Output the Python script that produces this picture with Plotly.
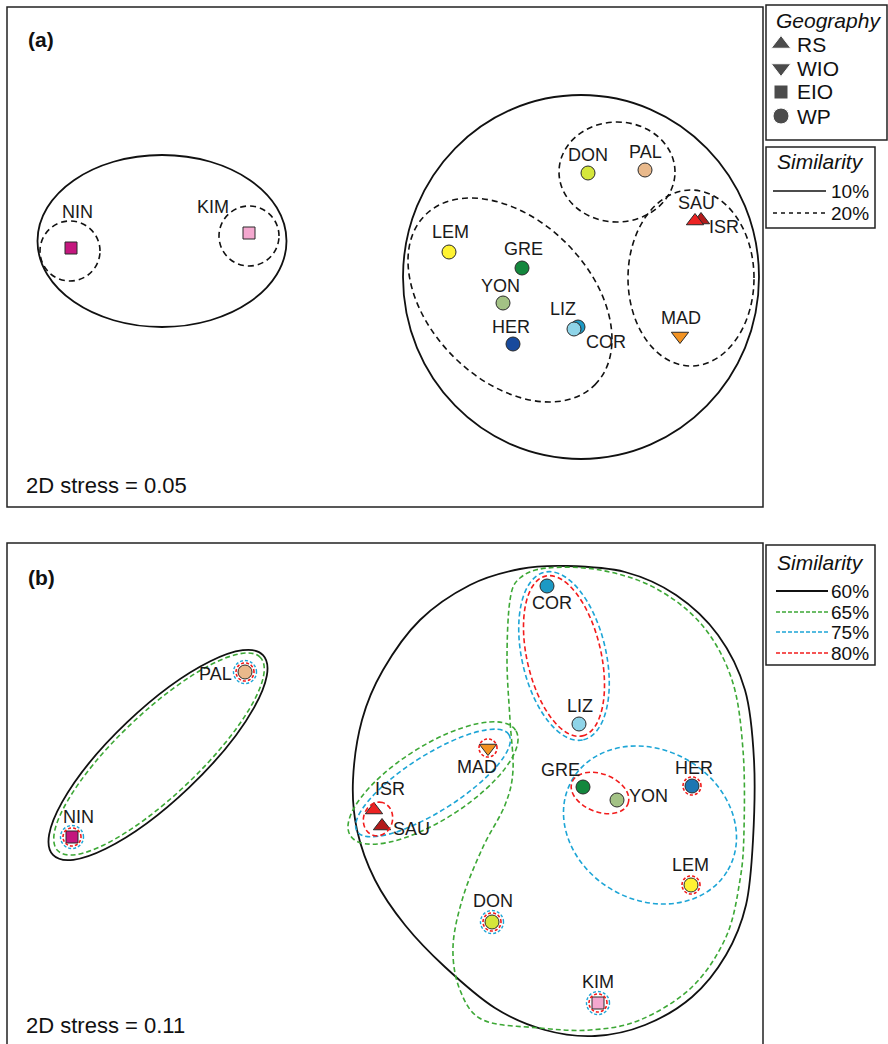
import math
import plotly.graph_objects as go

W, H = 888, 1044
FONT = "Liberation Sans, Arial, sans-serif"

# ---------------- NMDS coordinates ----------------
# Panel (a): 10% / 20% similarity
sites_a = ["NIN", "KIM", "DON", "PAL", "SAU", "ISR", "LEM", "GRE", "YON", "HER", "COR", "LIZ", "MAD"]
nmds1_a = [0.64, 2.42, 5.81, 6.38, 6.94, 6.88, 4.42, 5.15, 4.96, 5.06, 5.71, 5.67, 6.73]
nmds2_a = [2.59, 2.74, 3.34, 3.37, 2.87, 2.86, 2.55, 2.39, 2.04, 1.63, 1.80, 1.78, 1.71]

# Panel (b): 60-80% similarity
sites_b = ["NIN", "PAL", "COR", "LIZ", "MAD", "SAU", "ISR", "GRE", "YON", "HER", "LEM", "DON", "KIM"]
nmds1_b = [0.65, 2.38, 5.40, 5.72, 4.81, 3.75, 3.67, 5.76, 6.10, 6.85, 6.84, 4.85, 5.91]
nmds2_b = [2.07, 3.72, 4.58, 3.20, 2.96, 2.18, 2.34, 2.57, 2.44, 2.58, 1.59, 1.22, 0.41]

stress_a = 0.05
stress_b = 0.11

# Geography of each site
region = {"ISR": "RS", "SAU": "RS", "MAD": "WIO", "NIN": "EIO", "KIM": "EIO"}
regions = ["RS", "WIO", "EIO", "WP"]
region_symbol = {"RS": "triangle-up", "WIO": "triangle-down", "EIO": "square", "WP": "circle"}

site_color = {
    "NIN": "#C4177E", "KIM": "#F4A8CF", "PAL": "#E9B98B", "DON": "#D5E63B",
    "LEM": "#FFF333", "GRE": "#13873D", "YON": "#A3C285", "HER": "#1E76B3",
    "LIZ": "#8ED4E8", "COR": "#1C99C4", "MAD": "#F39322", "ISR": "#EC2323",
    "SAU": "#B31B1B",
}
site_color_a = dict(site_color, HER="#184A9C")

# label offsets in pixels (right, up)
label_off_a = {"NIN": (6, 36), "KIM": (-36, 26), "DON": (0, 18), "PAL": (0, 18),
               "SAU": (-5, 17), "ISR": (29, -6), "LEM": (1, 20), "GRE": (1, 19),
               "YON": (-3, 17), "HER": (-2, 17), "COR": (28, -15), "LIZ": (-11, 20),
               "MAD": (1, 18)}
label_off_b = {"NIN": (6, 20), "PAL": (-30, -2), "COR": (5, -17), "LIZ": (1, 18),
               "MAD": (-11, -19), "SAU": (29, -3), "ISR": (16, 21), "GRE": (-23, 17),
               "YON": (31, 4), "HER": (2, 18), "LEM": (-1, 20), "DON": (1, 21),
               "KIM": (0, 21)}

# ---------------- cluster outlines (NMDS units) ----------------
# panel (a)
hull_a_solid = [  # (cx, cy, rx, ry, angle)
    (1.55, 2.66, 1.245, 0.86, 0),
    (5.74, 2.30, 1.78, 1.82, 0),
]
hull_a_dashed = [
    (0.63, 2.56, 0.30, 0.30, 0),
    (2.42, 2.71, 0.30, 0.30, 0),
    (6.10, 3.35, 0.58, 0.50, 0),
    (6.84, 2.29, 0.63, 0.88, 0),
    (5.03, 2.07, 1.20, 0.80, -45),
]

# panel (b)
egg_60_x = [5.60, 6.18, 6.69, 7.11, 7.38, 7.47, 7.46, 7.39, 7.19, 6.85, 6.38, 5.88,
            5.38, 4.88, 4.38, 3.98, 3.68, 3.50, 3.46, 3.55, 3.76, 4.13, 4.63, 5.13]
egg_60_y = [4.78, 4.72, 4.49, 4.09, 3.54, 2.84, 2.04, 1.39, 0.89, 0.47, 0.19, 0.08,
            0.14, 0.36, 0.77, 1.19, 1.64, 2.14, 2.64, 3.24, 3.74, 4.24, 4.59, 4.75]
main_65_x = [5.03, 5.13, 5.40, 5.93, 6.48, 6.95, 7.25, 7.36, 7.37, 7.33, 7.19, 6.85,
             6.33, 5.83, 5.33, 4.76, 4.53, 4.46, 4.56, 4.76, 4.98, 5.06, 5.03, 5.00]
main_65_y = [4.44, 4.66, 4.76, 4.74, 4.56, 4.19, 3.64, 2.94, 2.14, 1.64, 1.07, 0.57,
             0.24, 0.14, 0.16, 0.24, 0.54, 0.97, 1.47, 1.97, 2.39, 2.74, 3.24, 3.84]

ell_b = {  # level -> list of (cx, cy, a, b, angle)
    "60": [(1.51, 2.89, 1.45, 0.45, 43.6)],
    "65": [(1.52, 2.90, 1.40, 0.41, 43.6), (4.26, 2.61, 0.98, 0.37, 32.5)],
    "75": [(5.57, 3.88, 0.86, 0.42, -77), (4.26, 2.61, 0.90, 0.28, 32.5),
           (6.43, 2.19, 0.90, 0.75, -30)],
    "80": [(5.57, 3.88, 0.82, 0.37, -77), (3.71, 2.25, 0.17, 0.145, 75),
           (5.93, 2.51, 0.30, 0.19, -21)],
}
ring_80 = ["PAL", "NIN", "DON", "KIM", "HER", "LEM", "MAD"]
ring_75 = ["PAL", "NIN", "DON", "KIM"]

level_style = {
    "60": dict(color="#111111", width=1.8, dash="solid"),
    "65": dict(color="#3DA836", width=1.6, dash="5px,3px"),
    "75": dict(color="#1DA5D6", width=1.6, dash="5px,3px"),
    "80": dict(color="#F21C1C", width=1.6, dash="5px,3px"),
}


def ellipse_path(cx, cy, a, b, ang):
    t = math.radians(ang)
    c, s = math.cos(t), math.sin(t)
    k = 0.5523

    def tr(u, v):
        return (cx + a * u * c - b * v * s, cy + a * u * s + b * v * c)

    quads = [((1, k), (k, 1), (0, 1)), ((-k, 1), (-1, k), (-1, 0)),
             ((-1, -k), (-k, -1), (0, -1)), ((k, -1), (1, -k), (1, 0))]
    x0, y0 = tr(1, 0)
    d = f"M{x0:.4f},{y0:.4f}"
    for c1, c2, p in quads:
        pts = [tr(*c1), tr(*c2), tr(*p)]
        d += " C" + " ".join(f"{x:.4f},{y:.4f}" for x, y in pts)
    return d + " Z"


def smooth_closed_path(xs, ys):
    n = len(xs)
    d = f"M{xs[0]},{ys[0]}"
    for i in range(n):
        i0, i1, i2, i3 = (i - 1) % n, i, (i + 1) % n, (i + 2) % n
        c1x = xs[i1] + (xs[i2] - xs[i0]) / 6
        c1y = ys[i1] + (ys[i2] - ys[i0]) / 6
        c2x = xs[i2] - (xs[i3] - xs[i1]) / 6
        c2y = ys[i2] - (ys[i3] - ys[i1]) / 6
        d += f" C{c1x:.4f},{c1y:.4f} {c2x:.4f},{c2y:.4f} {xs[i2]},{ys[i2]}"
    return d + " Z"


def px(x):
    return x / W


def py(y):
    return 1 - y / H


fig = go.Figure()
shapes = []
annotations = []


def add_sites(names, xs, ys, colors, xa, ya):
    for n, x, y in zip(names, xs, ys):
        sym = region_symbol[region.get(n, "WP")]
        size = 14 if sym == "circle" else (12 if sym == "square" else 15)
        fig.add_trace(go.Scatter(
            x=[x], y=[y], mode="markers", xaxis=xa, yaxis=ya, showlegend=False,
            hoverinfo="text", text=[n],
            marker=dict(symbol=sym, size=size, color=colors[n],
                        line=dict(color="#2a2a2a", width=1)),
        ))


def add_labels(names, xs, ys, offs, xr, yr):
    for n, x, y in zip(names, xs, ys):
        dx, dy = offs[n]
        annotations.append(dict(x=x, y=y, xref=xr, yref=yr, text=n, showarrow=False,
                                xshift=dx, yshift=dy, xanchor="center", yanchor="middle",
                                font=dict(family=FONT, size=18, color="#1a1a1a")))


# ---------------- panel (a) ----------------
for cx, cy, a, b, ang in hull_a_solid:
    shapes.append(dict(type="path", xref="x", yref="y", path=ellipse_path(cx, cy, a, b, ang),
                       line=dict(color="#111111", width=1.8)))
for cx, cy, a, b, ang in hull_a_dashed:
    shapes.append(dict(type="path", xref="x", yref="y", path=ellipse_path(cx, cy, a, b, ang),
                       line=dict(color="#111111", width=1.6, dash="6px,4px")))
add_sites(sites_a, nmds1_a, nmds2_a, site_color_a, "x", "y")
add_labels(sites_a, nmds1_a, nmds2_a, label_off_a, "x", "y")

# ---------------- panel (b) ----------------
shapes.append(dict(type="path", xref="x2", yref="y2", path=smooth_closed_path(egg_60_x, egg_60_y),
                   line=level_style["60"]))
shapes.append(dict(type="path", xref="x2", yref="y2", path=smooth_closed_path(main_65_x, main_65_y),
                   line=level_style["65"]))
for lvl, ells in ell_b.items():
    for cx, cy, a, b, ang in ells:
        shapes.append(dict(type="path", xref="x2", yref="y2",
                           path=ellipse_path(cx, cy, a, b, ang), line=level_style[lvl]))
pos_b = {n: (x, y) for n, x, y in zip(sites_b, nmds1_b, nmds2_b)}
for n in ring_75:
    x, y = pos_b[n]
    shapes.append(dict(type="path", xref="x2", yref="y2", path=ellipse_path(x, y, 0.115, 0.115, 0),
                       line=dict(color=level_style["75"]["color"], width=1.4, dash="3px,2px")))
for n in ring_80:
    x, y = pos_b[n]
    shapes.append(dict(type="path", xref="x2", yref="y2", path=ellipse_path(x, y, 0.09, 0.09, 0),
                       line=dict(color=level_style["80"]["color"], width=1.6, dash="3px,2px")))
add_sites(sites_b, nmds1_b, nmds2_b, site_color, "x2", "y2")
add_labels(sites_b, nmds1_b, nmds2_b, label_off_b, "x2", "y2")

# ---------------- frames ----------------
frame = dict(color="#222222", width=1.5)
shapes.append(dict(type="rect", xref="paper", yref="paper", x0=px(7), x1=px(763),
                   y0=py(507), y1=py(7), line=frame))
shapes.append(dict(type="rect", xref="paper", yref="paper", x0=px(7), x1=px(763),
                   y0=py(1060), y1=py(543), line=frame))
# legend boxes
shapes.append(dict(type="rect", xref="paper", yref="paper", x0=px(766), x1=px(887),
                   y0=py(140), y1=py(5), line=frame))
shapes.append(dict(type="rect", xref="paper", yref="paper", x0=px(766), x1=px(875),
                   y0=py(228), y1=py(147), line=frame))
shapes.append(dict(type="rect", xref="paper", yref="paper", x0=px(766), x1=px(875),
                   y0=py(665), y1=py(545), line=frame))

# panel tags and stress values
for tag, ty in (("(a)", 40), ("(b)", 577)):
    annotations.append(dict(x=px(26), y=py(ty), xref="paper", yref="paper", text=f"<b>{tag}</b>",
                            showarrow=False, xanchor="left", yanchor="middle",
                            font=dict(family=FONT, size=21, color="#111111")))
for val, ty in ((stress_a, 486), (stress_b, 1025)):
    annotations.append(dict(x=px(24), y=py(ty), xref="paper", yref="paper",
                            text=f"2D stress = {val:.2f}", showarrow=False,
                            xanchor="left", yanchor="middle",
                            font=dict(family=FONT, size=22, color="#111111")))

# geography legend
annotations.append(dict(x=px(828), y=py(20), xref="paper", yref="paper", text="<i>Geography</i>",
                        showarrow=False, xanchor="center", yanchor="middle",
                        font=dict(family=FONT, size=21, color="#111111")))
leg_y = [44, 68, 92, 116]
fig.add_trace(go.Scatter(
    x=[781] * 4, y=leg_y, mode="markers", xaxis="x3", yaxis="y3", showlegend=False,
    hoverinfo="skip",
    marker=dict(symbol=[region_symbol[r] for r in regions], size=[17, 17, 14, 16], color="#000000"),
))
for r, ly in zip(regions, leg_y):
    annotations.append(dict(x=px(795), y=py(ly), xref="paper", yref="paper", text=r,
                            showarrow=False, xanchor="left", yanchor="middle",
                            font=dict(family=FONT, size=21, color="#111111")))


def sim_legend(title_y, rows):
    annotations.append(dict(x=px(820), y=py(title_y), xref="paper", yref="paper",
                            text="<i>Similarity</i>", showarrow=False, xanchor="center",
                            yanchor="middle", font=dict(family=FONT, size=21, color="#111111")))
    for label, style, ly, x0, x1 in rows:
        shapes.append(dict(type="line", xref="paper", yref="paper", x0=px(x0), x1=px(x1),
                           y0=py(ly), y1=py(ly), line=style))
        annotations.append(dict(x=px(871), y=py(ly), xref="paper", yref="paper", text=label,
                                showarrow=False, xanchor="right", yanchor="middle",
                                font=dict(family=FONT, size=19, color="#111111")))


sim_legend(162, [
    ("10%", dict(color="#111111", width=1.5), 191, 773, 826),
    ("20%", dict(color="#111111", width=1.5, dash="4px,4px"), 213, 773, 826),
])
sim_legend(562, [
    ("60%", dict(color="#111111", width=1.8), 591, 776, 828),
    ("65%", dict(level_style["65"], width=1.6, dash="4px,2px"), 612, 776, 828),
    ("75%", dict(level_style["75"], width=1.6, dash="4px,2px"), 632, 776, 828),
    ("80%", dict(level_style["80"], width=1.6, dash="4px,2px"), 653, 776, 828),
])

hidden = dict(visible=False, showgrid=False, zeroline=False, fixedrange=True)
fig.update_layout(
    width=W, height=H,
    margin=dict(l=0, r=0, t=0, b=0),
    paper_bgcolor="white", plot_bgcolor="rgba(0,0,0,0)",
    xaxis=dict(hidden, domain=[px(7), px(763)], range=[0, 7.56]),
    yaxis=dict(hidden, domain=[py(507), py(7)], range=[0, 5.00]),
    xaxis2=dict(hidden, domain=[px(7), px(763)], range=[0, 7.56]),
    yaxis2=dict(hidden, domain=[0, py(543)], range=[0, 5.01]),
    xaxis3=dict(hidden, domain=[0, 1], range=[0, W]),
    yaxis3=dict(hidden, domain=[0, 1], range=[H, 0]),
    shapes=shapes,
    annotations=annotations,
    showlegend=False,
)

fig.write_html("out.html")
